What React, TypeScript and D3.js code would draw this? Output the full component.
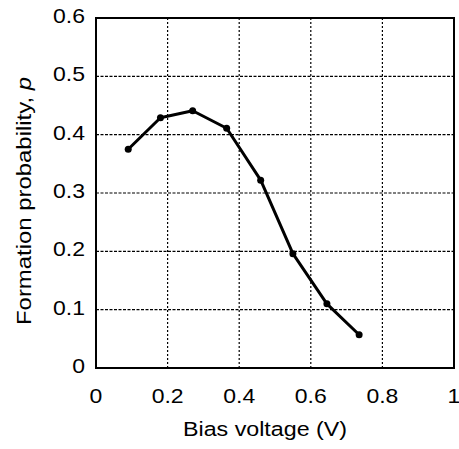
import React from "react";
import * as d3 from "d3";

const voltages = [0.09, 0.18, 0.27, 0.365, 0.46, 0.55, 0.645, 0.735];
const probabilities = [0.375, 0.429, 0.441, 0.411, 0.322, 0.196, 0.11, 0.057];
const xTicks = [0, 0.2, 0.4, 0.6, 0.8, 1];
const yTicks = [0, 0.1, 0.2, 0.3, 0.4, 0.5, 0.6];
const xTickLabels = ["0", "0.2", "0.4", "0.6", "0.8", "1"];
const yTickLabels = ["0", "0.1", "0.2", "0.3", "0.4", "0.5", "0.6"];

const W = 459, H = 449;
const L = 96, R = 454, T = 18, B = 368;
const font = "'Liberation Sans', Arial, Helvetica, sans-serif";
const SX = 1.15;

export default function App() {
  const x = d3.scaleLinear().domain([0, 1]).range([L, R]);
  const y = d3.scaleLinear().domain([0, 0.6]).range([B, T]);
  const pts = voltages.map((v, i) => [v, probabilities[i]] as [number, number]);
  const line = d3.line<[number, number]>().x(d => x(d[0])).y(d => y(d[1]));

  return (
    <svg width={W} height={H} style={{ position: "absolute", left: 0, top: 0, background: "#fff" }}>
      {xTicks.slice(1, -1).map((t, i) => (
        <line key={"gx" + i} x1={x(t)} x2={x(t)} y1={T} y2={B} stroke="#000" strokeWidth={1.2} strokeDasharray="2,2" />
      ))}
      {yTicks.slice(1, -1).map((t, i) => (
        <line key={"gy" + i} x1={L} x2={R} y1={y(t)} y2={y(t)} stroke="#000" strokeWidth={1.2} strokeDasharray="3,1.5" />
      ))}
      <rect x={L} y={T} width={R - L} height={B - T} fill="none" stroke="#000" strokeWidth={2} />
      <path d={line(pts) || ""} fill="none" stroke="#000" strokeWidth={3} strokeLinejoin="round" />
      {pts.map((p, i) => (
        <circle key={"c" + i} cx={x(p[0])} cy={y(p[1])} r={3.5} fill="#000" />
      ))}
      {yTicks.map((t, i) => (
        <g key={"yl" + i} transform={`translate(85,${y(t) - 2}) scale(${SX},1)`}>
          <text x={0} y={0} dy="0.35em" textAnchor="end" fontFamily={font} fontSize={20} fill="#000">
            {yTickLabels[i]}
          </text>
        </g>
      ))}
      {xTicks.map((t, i) => (
        <g key={"xl" + i} transform={`translate(${x(t)},403) scale(${SX},1)`}>
          <text x={0} y={0} textAnchor="middle" fontFamily={font} fontSize={20} fill="#000">
            {xTickLabels[i]}
          </text>
        </g>
      ))}
      <text x={265} y={436} textAnchor="middle" fontFamily={font} fontSize={20.5} fill="#000"
        textLength={164} lengthAdjust="spacingAndGlyphs">
        Bias voltage (V)
      </text>
      <text transform={`translate(31,${(T + B) / 2 + 8}) rotate(-90)`} textAnchor="middle" fontFamily={font} fontSize={20.5} fill="#000"
        textLength={248} lengthAdjust="spacingAndGlyphs">
        Formation probability, <tspan fontStyle="italic">p</tspan>
      </text>
    </svg>
  );
}
